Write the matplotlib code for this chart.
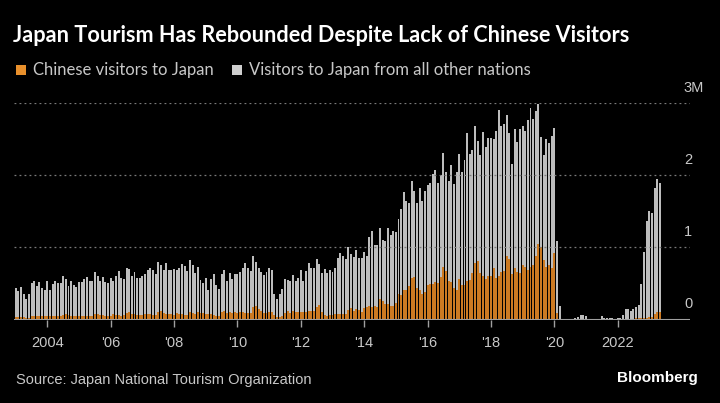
import matplotlib
matplotlib.use("Agg")
import matplotlib.pyplot as plt
from matplotlib.patches import Rectangle
import numpy as np

# ---------------- data (thousands of visitors, monthly Jan 2003 - May 2023) ----------------
start_year = 2003
total_visitors = [
    # 2003
    440, 390, 450, 350, 280, 350, 510, 540, 460, 520, 440, 410,
    # 2004
    530, 410, 490, 540, 500, 500, 610, 560, 470, 530, 480, 450,
    # 2005
    520, 520, 560, 590, 530, 540, 660, 610, 530, 590, 520, 510,
    # 2006
    580, 540, 600, 670, 570, 560, 710, 700, 600, 660, 580, 570,
    # 2007
    610, 630, 680, 710, 680, 630, 800, 760, 680, 780, 690, 680,
    # 2008
    700, 690, 720, 770, 740, 670, 820, 760, 640, 730, 550, 500,
    # 2009
    580, 410, 560, 630, 480, 420, 630, 680, 530, 650, 560, 630,
    # 2010
    630, 660, 710, 780, 720, 670, 880, 800, 720, 660, 620, 660,
    # 2011
    710, 680, 350, 280, 350, 430, 560, 550, 540, 620, 540, 580,
    # 2012
    680, 540, 670, 780, 720, 710, 840, 770, 650, 700, 650, 690,
    # 2013
    660, 720, 850, 920, 880, 840, 1000, 910, 870, 960, 860, 860,
    # 2014
    940, 880, 1150, 1230, 1040, 1030, 1270, 1100, 1090, 1270, 1170, 1230,
    # 2015
    1220, 1390, 1530, 1770, 1650, 1610, 1920, 1780, 1610, 1830, 1650, 1780,
    # 2016
    1860, 1890, 2020, 2080, 1900, 2000, 2310, 2050, 1920, 2150, 1880, 2040,
    # 2017
    2300, 2040, 2220, 2590, 2290, 2350, 2690, 2480, 2280, 2600, 2390, 2520,
    # 2018
    2520, 2510, 2610, 2910, 2680, 2710, 2840, 2590, 2160, 2650, 2460, 2640,
    # 2019
    2690, 2610, 2770, 2930, 2780, 2900, 2990, 2530, 2280, 2500, 2450, 2540,
    # 2020
    2660, 1090, 190, 3, 2, 3, 4, 9, 14, 28, 57, 59,
    # 2021
    46, 7, 12, 11, 10, 10, 51, 26, 18, 22, 21, 12,
    # 2022
    17, 17, 66, 139, 147, 120, 144, 170, 207, 499, 935, 1370,
    # 2023
    1500, 1480, 1820, 1950, 1900,
]

chinese_visitors = [
    # 2003
    36, 38, 39, 32, 17, 22, 44, 48, 42, 45, 42, 44,
    # 2004
    43, 50, 48, 47, 43, 46, 62, 72, 56, 55, 45, 49,
    # 2005
    47, 48, 52, 47, 51, 50, 70, 80, 62, 60, 43, 43,
    # 2006
    52, 70, 62, 59, 55, 57, 89, 99, 76, 70, 60, 63,
    # 2007
    60, 80, 73, 70, 64, 65, 105, 117, 88, 80, 70, 70,
    # 2008
    68, 92, 80, 75, 60, 58, 99, 88, 80, 110, 95, 95,
    # 2009
    82, 80, 70, 68, 55, 48, 110, 120, 85, 105, 85, 98,
    # 2010
    90, 110, 100, 95, 97, 97, 170, 190, 140, 120, 85, 90,
    # 2011
    100, 105, 65, 30, 37, 50, 90, 120, 90, 120, 100, 110,
    # 2012
    110, 106, 110, 120, 120, 115, 175, 205, 105, 60, 50, 60,
    # 2013
    60, 70, 75, 75, 80, 75, 130, 160, 120, 150, 125, 110,
    # 2014
    160, 175, 190, 180, 184, 178, 281, 254, 218, 210, 190, 190,
    # 2015
    225, 360, 338, 403, 412, 462, 575, 591, 432, 403, 354, 382,
    # 2016
    475, 499, 498, 515, 508, 584, 731, 670, 533, 520, 435, 410,
    # 2017
    557, 482, 476, 536, 551, 641, 781, 812, 645, 598, 560, 600,
    # 2018
    597, 717, 571, 600, 658, 671, 880, 840, 628, 716, 662, 646,
    # 2019
    754, 724, 691, 726, 756, 881, 1051, 1001, 819, 731, 751, 711,
    # 2020
    925, 89, 10, 0.2, 0.1, 0.1, 0.2, 0.6, 1, 5, 10, 11,
    # 2021
    9, 0.6, 0.6, 0.5, 0.4, 0.3, 4, 2, 1.4, 1.6, 2, 1.1,
    # 2022
    1.5, 1.3, 5, 7, 8, 9, 12, 15, 17, 22, 23, 24,
    # 2023
    31, 36, 75, 108, 102,
]

tick_years = [2004, 2006, 2008, 2010, 2012, 2014, 2016, 2018, 2020, 2022]
tick_labels = ["2004", "'06", "'08", "'10", "'12", "'14", "'16", "'18", "'20", "2022"]
y_ticks = [0, 1000, 2000, 3000]
y_labels = ["0", "1", "2", "3M"]

title = "Japan Tourism Has Rebounded Despite Lack of Chinese Visitors"
legend_labels = ["Chinese visitors to Japan", "Visitors to Japan from all other nations"]
source = "Source: Japan National Tourism Organization"

# ---------------- style ----------------
BG = "#000000"
ORANGE = "#cc7a22"
GREY = "#bdbdbd"
TXT = "#c8c8c8"
NARROW = ["Lato", "DejaVu Sans"]
SANS = ["Liberation Sans", "DejaVu Sans"]

W, H = 720, 403
fig = plt.figure(figsize=(W / 100, H / 100), dpi=100, facecolor=BG)

def fx(px):
    return px / W

def fy(py):
    return 1 - py / H

ax_left, ax_right = 14, 690
ax_bottom, ax_top = 319.5, 103.3
ax = fig.add_axes([fx(ax_left), fy(ax_bottom), fx(ax_right - ax_left), (ax_bottom - ax_top) / H])
ax.set_facecolor(BG)

n = len(total_visitors)
x = start_year + np.arange(n) / 12.0
bw = 0.74 / 12.0
ax.bar(x, total_visitors, width=bw, color=GREY, linewidth=0, zorder=2)
ax.bar(x, chinese_visitors, width=bw, color=ORANGE, linewidth=0, zorder=2.5)

px_per_year = 2.64 * 12
x0 = start_year + (ax_left - 15.7) / px_per_year
x1 = start_year + (ax_right - 15.7) / px_per_year
ax.set_xlim(x0, x1)
ax.set_ylim(0, 3000)

for s in ax.spines.values():
    s.set_visible(False)

# gridlines
for yv in y_ticks[1:]:
    ax.axhline(yv, color="#7a7a7a", lw=0.9, ls=(0, (1.5, 2.5)), zorder=3)
ax.axhline(0, color="#a0a0a0", lw=1.5, zorder=4)

ax.set_yticks([])
ax.set_xticks(tick_years)
ax.set_xticklabels(tick_labels, fontfamily=SANS, fontsize=10.5, color=TXT)
ax.tick_params(axis="x", length=5, width=1, color="#a0a0a0", pad=7)

# right-side y labels above gridlines
for yv, lab in zip(y_ticks, y_labels):
    ax.text(0.991, yv + 210, lab, transform=ax.get_yaxis_transform(), ha="left", va="center",
            fontfamily=SANS, fontsize=10.5, color=TXT, clip_on=False)

# title
fig.text(fx(13), fy(36), title, fontfamily=NARROW, fontweight="bold", fontsize=15.6,
         color="white", ha="left", va="center")

# legend
sq = 10
fig.add_artist(Rectangle((fx(16), fy(75)), fx(sq), sq / H, transform=fig.transFigure,
                         color="#e8902c", lw=0))
fig.text(fx(33), fy(70), legend_labels[0], fontfamily=NARROW, fontsize=12, color=TXT,
         ha="left", va="center")
fig.add_artist(Rectangle((fx(232), fy(75)), fx(sq), sq / H, transform=fig.transFigure,
                         color="#cfcfcf", lw=0))
fig.text(fx(249), fy(70), legend_labels[1], fontfamily=NARROW, fontsize=12, color=TXT,
         ha="left", va="center")

# footer
fig.text(fx(16), fy(380), source, fontfamily=SANS, fontsize=10.5, color=TXT,
         ha="left", va="center")
fig.text(fx(698), fy(378), "Bloomberg", fontfamily=SANS, fontweight="bold", fontsize=11,
         color="white", ha="right", va="center")

fig.savefig("out.png", dpi=100, facecolor=BG)
